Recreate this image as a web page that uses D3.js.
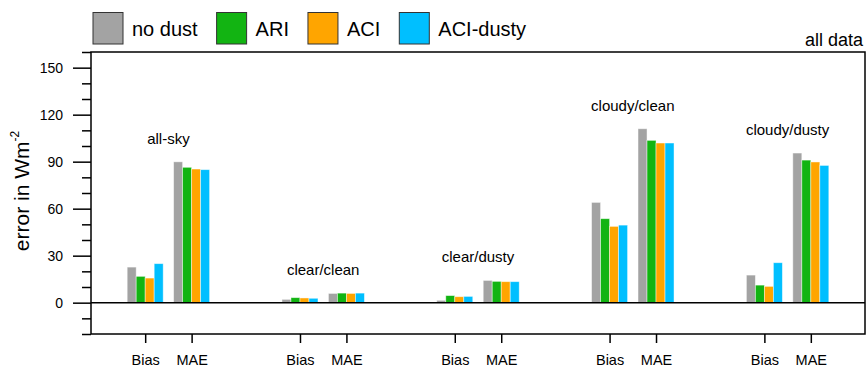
<!DOCTYPE html>
<html>
<head>
<meta charset="utf-8">
<script src="https://cdn.jsdelivr.net/npm/d3@7"></script>
<style>
  html, body { margin: 0; padding: 0; background: #fff; }
  svg { display: block; font-family: "Liberation Sans", Arial, Helvetica, sans-serif; }
</style>
</head>
<body>
<svg id="chart" width="866" height="369"></svg>
<script>
// Sky situations (panels along the x axis) and the two error metrics shown in each
const groups = ["all-sky", "clear/clean", "clear/dusty", "cloudy/clean", "cloudy/dusty"];
const metrics = ["Bias", "MAE"];
const seriesNames = ["no dust", "ARI", "ACI", "ACI-dusty"];

// Values ordered group by group: [Bias, MAE] for each situation (W m-2)
const noDust   = [22.7, 89.9,  2.1, 5.9,  1.5, 14.2,  64.0, 111.0,  17.6, 95.5];
const ari      = [16.8, 86.4,  3.2, 6.1,  4.5, 13.6,  53.6, 103.6,  11.2, 91.0];
const aci      = [15.7, 85.3,  3.0, 5.9,  3.8, 13.4,  48.7, 101.9,  10.4, 89.8];
const aciDusty = [24.9, 84.9,  2.8, 6.1,  4.0, 13.4,  49.5, 101.9,  25.5, 87.6];

const yMajorTicks = [0, 30, 60, 90, 120, 150];
const colors = ["#a3a3a3", "#12b412", "#ffa500", "#00bfff"];

const seriesValues = [noDust, ari, aci, aciDusty];

const svg = d3.select("#chart");
const plotLeft = 91, plotRight = 865, plotTop = 52, plotBottom = 334;

const x = d3.scaleLinear().domain([0, groups.length]).range([plotLeft, plotRight]);
const y = d3.scaleLinear().domain([-20, 160]).range([plotBottom, plotTop]);

// metric tick position inside each situation block
const metricOffset = [0.35, 0.65];
const barPx = 9;

// build bar records
const bars = [];
groups.forEach((g, gi) => {
  metrics.forEach((m, mi) => {
    const idx = gi * metrics.length + mi;
    seriesValues.forEach((vals, si) => {
      bars.push({ gi, mi, si, value: vals[idx], cx: x(gi + metricOffset[mi]) });
    });
  });
});

svg.append("g").selectAll("rect").data(bars).join("rect")
  .attr("x", d => d.cx + (d.si - 2) * barPx)
  .attr("width", barPx)
  .attr("y", d => y(Math.max(0, d.value)))
  .attr("height", d => Math.abs(y(d.value) - y(0)))
  .attr("fill", d => colors[d.si])
  .attr("stroke", "#ffffff")
  .attr("stroke-opacity", 0.55)
  .attr("stroke-width", 0.8);

// zero line
svg.append("line")
  .attr("x1", plotLeft).attr("x2", plotRight)
  .attr("y1", y(0)).attr("y2", y(0))
  .attr("stroke", "#000").attr("stroke-width", 1.5);

// situation labels above each block
groups.forEach((g, gi) => {
  const idxs = [gi * 2, gi * 2 + 1];
  let mx = -Infinity;
  seriesValues.forEach(vals => idxs.forEach(i => { mx = Math.max(mx, vals[i]); }));
  svg.append("text")
    .attr("x", x(gi + 0.5))
    .attr("y", y(mx + 15))
    .attr("dominant-baseline", "central")
    .attr("text-anchor", "middle")
    .attr("font-size", 15)
    .attr("fill", "#000")
    .text(g);
});

// y axis: major ticks with labels
const yAxis = d3.axisLeft(y).tickValues(yMajorTicks).tickSize(18).tickPadding(10).tickFormat(d3.format("d"));
const gy = svg.append("g").attr("transform", `translate(${plotLeft},0)`).call(yAxis);
gy.select(".domain").remove();
gy.selectAll(".tick line").attr("stroke-width", 1.5);
gy.selectAll(".tick text").attr("font-size", 14).attr("font-family", "Liberation Sans, Arial, sans-serif").attr("fill", "#000");

// y axis: minor ticks
const yMinor = d3.range(-20, 161, 10).filter(v => !yMajorTicks.includes(v));
const gyMinor = svg.append("g").attr("transform", `translate(${plotLeft},0)`)
  .call(d3.axisLeft(y).tickValues(yMinor).tickSize(9).tickFormat(""));
gyMinor.select(".domain").remove();
gyMinor.selectAll(".tick line").attr("stroke-width", 1.5);

// x axis: one tick per metric in every block
const xTickVals = [];
const xTickLabels = [];
groups.forEach((g, gi) => metrics.forEach((m, mi) => {
  xTickVals.push(gi + metricOffset[mi]);
  xTickLabels.push(m);
}));
const xAxis = d3.axisBottom(x).tickValues(xTickVals).tickSize(9).tickPadding(12)
  .tickFormat((d, i) => xTickLabels[i]);
const gx = svg.append("g").attr("transform", `translate(0,${plotBottom})`).call(xAxis);
gx.select(".domain").remove();
gx.selectAll(".tick line").attr("stroke-width", 1.5);
gx.selectAll(".tick text").attr("font-size", 14.5).attr("font-family", "Liberation Sans, Arial, sans-serif").attr("fill", "#000");

// plot frame
svg.append("rect")
  .attr("x", plotLeft).attr("y", plotTop)
  .attr("width", plotRight - plotLeft).attr("height", plotBottom - plotTop)
  .attr("fill", "none").attr("stroke", "#000").attr("stroke-width", 1.5);

// y axis title
const yTitle = svg.append("text")
  .attr("transform", `translate(29,191) rotate(-90)`)
  .attr("text-anchor", "middle")
  .attr("font-size", 21)
  .attr("fill", "#000");
yTitle.append("tspan").text("error in Wm");
yTitle.append("tspan").attr("font-size", 12).attr("dy", -10).text("-2");

// panel tag
svg.append("text")
  .attr("x", 863).attr("y", 46)
  .attr("text-anchor", "end")
  .attr("font-size", 18)
  .attr("fill", "#000")
  .text("all data");

// legend
const legend = svg.append("g");
let lx = 93;
seriesNames.forEach((name, i) => {
  legend.append("rect")
    .attr("x", lx).attr("y", 12.5)
    .attr("width", 30).attr("height", 31.5)
    .attr("fill", colors[i])
    .attr("stroke", "#333").attr("stroke-width", 1);
  const t = legend.append("text")
    .attr("x", lx + 39).attr("y", 36)
    .attr("font-size", 20)
    .attr("fill", "#000")
    .text(name);
  lx += 39 + t.node().getComputedTextLength() + 19;
});
</script>
</body>
</html>
